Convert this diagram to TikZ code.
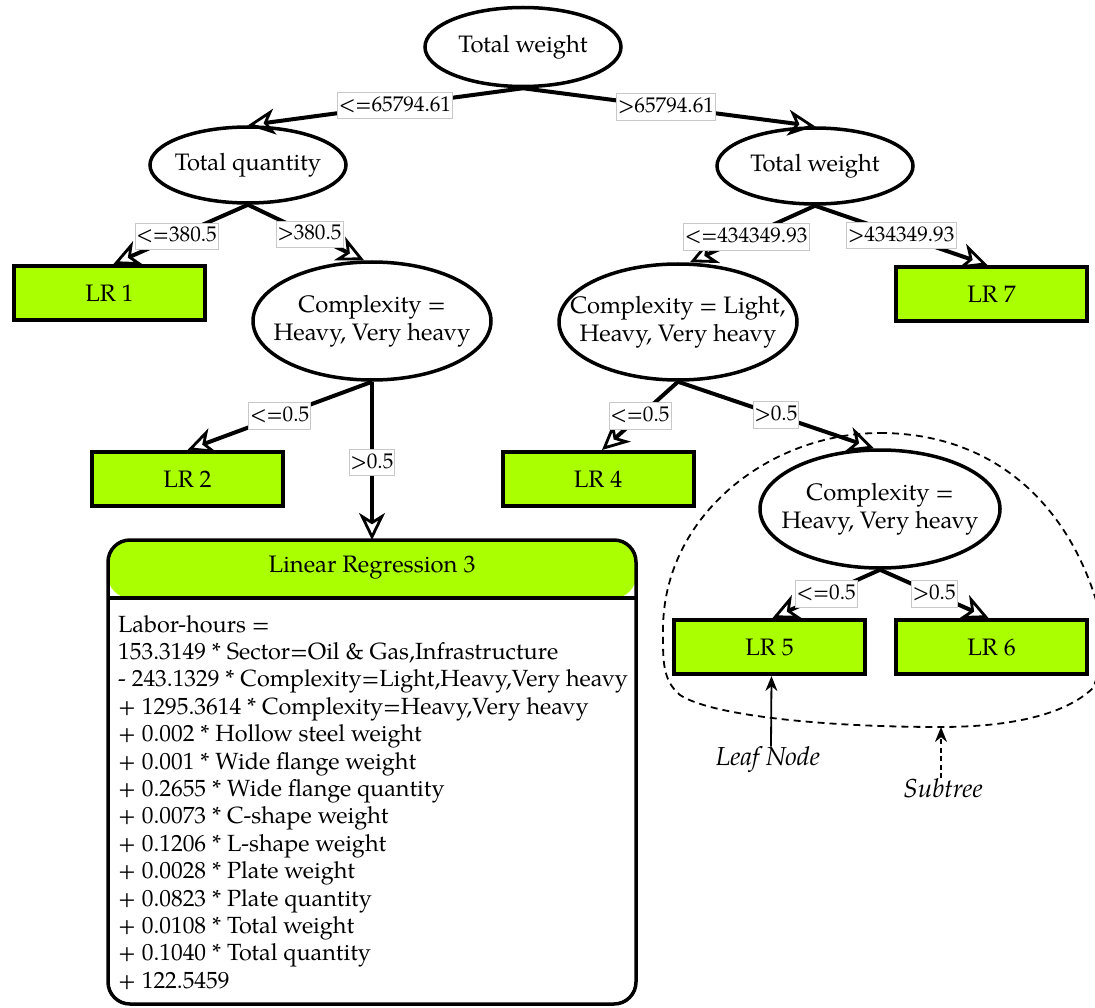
\documentclass[tikz,border=0pt]{standalone}
\usepackage{fontspec}
\setmainfont{TeX Gyre Pagella}
\usetikzlibrary{shapes.geometric,arrows.meta}
\definecolor{leafgreen}{RGB}{170,255,0}
\definecolor{labelframe}{RGB}{200,200,200}
% centred lines in a zero-width box, so the ellipse keeps its set size
\newcommand{\ctrlines}[1]{\makebox[0pt][c]{\begin{tabular}{@{}c@{}}#1\end{tabular}}}
\tikzset{
  txt/.style={font=\fontsize{23.8}{27.4}\selectfont},
  split/.style={txt, ellipse, draw, line width=3.5pt, fill=white, inner sep=0pt},
  leaf/.style={txt, rectangle, draw, line width=4pt, fill=leafgreen, minimum width=191pt, minimum height=54pt, inner sep=0pt},
  edge/.style={line width=4pt, -{Stealth[open, line width=2.8pt, length=27pt, width=26pt, inset=8pt]}},
  cond/.style={font=\fontsize{21.2}{24}\selectfont, fill=white, draw=labelframe, line width=0.8pt,
               inner xsep=1.5pt, inner ysep=2.5pt, text height=16.5pt, text depth=5pt},
  note/.style={font=\fontsize{26}{30}\selectfont\itshape, inner sep=0pt},
  pointer/.style={line width=1.8pt, -{Stealth[length=15pt, width=12pt]}},
}
\begin{document}
\begin{tikzpicture}[x=1pt,y=-1pt]
\useasboundingbox (0,0) rectangle (1095,1008);

% dashed outline of the subtree
\draw[line width=1.8pt, dash pattern=on 7pt off 5pt] (880,433)
  .. controls (990,433) and (1065,500) .. (1096,600)
  .. controls (1100,640) and (1100,675) .. (1093,688)
  .. controls (1065,715) and (1010,727) .. (940,727)
  .. controls (820,727) and (710,715) .. (680,695)
  .. controls (662,680) and (663,660) .. (663,630)
  .. controls (663,515) and (770,433) .. (880,433);
\coordinate (subbottom) at (941,727);

% split nodes
\node[split, minimum width=196pt, minimum height=79pt] (t0) at (523,47) {\ctrlines{Total weight}};
\node[split, minimum width=196pt, minimum height=76pt] (t1) at (248,165) {\ctrlines{Total quantity}};
\node[split, minimum width=196pt, minimum height=76pt] (t2) at (815,166) {\ctrlines{Total weight}};
\node[split, minimum width=238pt, minimum height=118pt] (c1) at (372,321) {\ctrlines{Complexity =\\Heavy, Very heavy}};
\node[split, minimum width=238pt, minimum height=116pt] (c2) at (678,322) {\ctrlines{Complexity = Light,\\Heavy, Very heavy}};
\node[split, minimum width=240pt, minimum height=118pt] (c3) at (880,509) {\ctrlines{Complexity =\\Heavy, Very heavy}};

% leaves
\node[leaf] (lr1) at (109.5,293) {LR 1};
\node[leaf] (lr7) at (991.5,294) {LR 7};
\node[leaf] (lr2) at (187.5,479) {LR 2};
\node[leaf] (lr4) at (598,479) {LR 4};
\node[leaf] (lr5) at (769.5,647) {LR 5};
\node[leaf] (lr6) at (991.5,647) {LR 6};

% expanded leaf with its regression model
\node[rectangle, draw, line width=3.5pt, rounded corners=22pt, outer sep=0pt,
      minimum width=528pt, minimum height=464pt, inner sep=0pt,
      path picture={\fill[leafgreen] (path picture bounding box.north west) rectangle
        ([yshift=-58pt]path picture bounding box.north east);}] (lr3) at (372,772) {};
\draw[line width=3.5pt] ([yshift=-58pt]lr3.north west) -- ([yshift=-58pt]lr3.north east);
\node[txt, inner sep=0pt] (lr3title) at (372,568) {Linear Regression 3};
\node[font=\fontsize{23.4}{27.4}\selectfont, inner sep=0pt, anchor=north west, align=left] (lr3body) at (118,615) {%
Labor-hours =\\
153.3149 * Sector=Oil \& Gas,Infrastructure\\
- 243.1329 * Complexity=Light,Heavy,Very heavy\\
+ 1295.3614 * Complexity=Heavy,Very heavy\\
+ 0.002 * Hollow steel weight\\
+ 0.001 * Wide flange weight\\
+ 0.2655 * Wide flange quantity\\
+ 0.0073 * C-shape weight\\
+ 0.1206 * L-shape weight\\
+ 0.0028 * Plate weight\\
+ 0.0823 * Plate quantity\\
+ 0.0108 * Total weight\\
+ 0.1040 * Total quantity\\
+ 122.5459};

% branches
\draw[edge] (t0.south) -- (t1.north) node[cond, pos=0.465] {<=65794.61};
\draw[edge] (t0.south) -- (t2.north) node[cond, pos=0.49] {>65794.61};
\draw[edge] (t1.south) -- ([xshift=4pt]lr1.north) node[cond, pos=0.53] {<=380.5};
\draw[edge] (t1.south) -- ([xshift=-8pt]c1.north) node[cond, pos=0.53] {>380.5};
\draw[edge] (t2.south) -- ([xshift=12pt]c2.north) node[cond, pos=0.55] {<=434349.93};
\draw[edge] (t2.south) -- ([xshift=-4pt]lr7.north) node[cond, pos=0.5] {>434349.93};
\draw[edge] (c1.south) -- (lr2.north) node[cond, midway] {<=0.5};
\draw[edge] (c1.south) -- (lr3.north) node[cond, pos=0.51] {>0.5};
\draw[edge] (c2.south) -- ([xshift=4pt]lr4.north) node[cond, midway] {<=0.5};
\draw[edge] (c2.south) -- ([xshift=-6pt]c3.north) node[cond, midway] {>0.5};
\draw[edge] (c3.south) -- ([xshift=3pt]lr5.north) node[cond, midway] {<=0.5};
\draw[edge] (c3.south) -- ([xshift=-3pt]lr6.north) node[cond, midway] {>0.5};

% annotations
\node[note] (leafnote) at (768,760) {Leaf Node};
\draw[pointer] ([xshift=3pt]leafnote.north) -- ([xshift=2pt]lr5.south);
\node[note] (subnote) at (943,788) {Subtree};
\draw[pointer, dash pattern=on 5pt off 3.5pt] ([xshift=-2pt]subnote.north) -- (subbottom);
\end{tikzpicture}
\end{document}
